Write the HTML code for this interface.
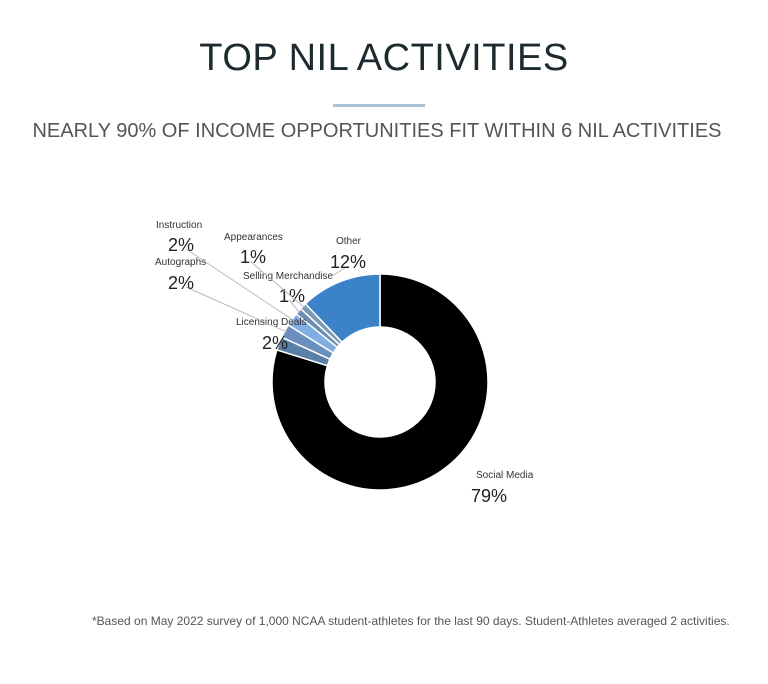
<!DOCTYPE html>
<html><head><meta charset="utf-8"><style>
body{margin:0;width:768px;height:684px;background:#fff;font-family:"Liberation Sans",sans-serif;overflow:hidden;position:relative}
.t{position:absolute;white-space:nowrap}
</style></head><body>
<div class="t" style="left:0;width:768px;text-align:center;top:37px;font-size:38px;color:#1d2a30;letter-spacing:0.5px">TOP NIL ACTIVITIES</div>
<div style="position:absolute;left:333px;top:104px;width:92px;height:3px;background:#a9c3d9"></div>
<div class="t" style="left:0;width:754px;text-align:center;top:120px;font-size:20px;color:#555">NEARLY 90% OF INCOME OPPORTUNITIES FIT WITHIN 6 NIL ACTIVITIES</div>
<svg width="768" height="684" style="position:absolute;left:0;top:0">
<g id="slices"></g><g id="labels"></g>
</svg>
<div class="t" style="left:92px;top:614px;font-size:12px;color:#555">*Based on May 2022 survey of 1,000 NCAA student-athletes for the last 90 days. Student-Athletes averaged 2 activities.</div>
<script>
const categories=["Social Media","Licensing Deals","Autographs","Instruction","Selling Merchandise","Appearances","Other"];
const values=[79,2,2,2,1,1,12];
const colors=["#000000","#5b80a8","#6a8fbd","#80aee0","#6d8db0","#7a98b8","#3b82c8"];
const cx=380,cy=382,R=108,r=55;
const total=values.reduce((a,b)=>a+b,0);
const ns="http://www.w3.org/2000/svg";
const g=document.getElementById('slices');
function pt(a,rad){return [cx+rad*Math.sin(a),cy-rad*Math.cos(a)];}
let acc=0;
const mids=[];
values.forEach((v,i)=>{
 const a0=acc/total*2*Math.PI;acc+=v;const a1=acc/total*2*Math.PI;
 mids.push((a0+a1)/2);
 const large=(a1-a0)>Math.PI?1:0;
 const p0=pt(a0,R),p1=pt(a1,R),q1=pt(a1,r),q0=pt(a0,r);
 const p=document.createElementNS(ns,'path');
 p.setAttribute('d',`M${p0[0]},${p0[1]}A${R},${R} 0 ${large} 1 ${p1[0]},${p1[1]}L${q1[0]},${q1[1]}A${r},${r} 0 ${large} 0 ${q0[0]},${q0[1]}Z`);
 p.setAttribute('fill',colors[i]);p.setAttribute('stroke','#fff');p.setAttribute('stroke-width','1.5');
 
 
 g.appendChild(p);
});
// label anchor positions (layout, not data)
const lab=[[476,478,471,496],[236,325,262,343],[155,265,168,283],[156,228,168,245],[243,279,279,296],[224,240,240,257],[336,244,330,262]];
const lg=document.getElementById('labels');
values.forEach((v,i)=>{
 const [nx,ny,px,py]=lab[i];
 if(i>0&&i<6){
  const e=pt(mids[i],R-2);
  const l=document.createElementNS(ns,'line');
  const sx=px+12,sy=py+4;
  l.setAttribute('x1',i==1?px+14:(i==2||i==3?px+18:px+10));l.setAttribute('y1',i==1?py-4:py+4);
  l.setAttribute('x2',e[0]);l.setAttribute('y2',e[1]);
  l.setAttribute('stroke','#bbb');l.setAttribute('stroke-width','1');
  
  
  if(i!==1)lg.appendChild(l);
 }
 if(i==6){const e=pt(mids[i],R);const l=document.createElementNS(ns,'line');
  l.setAttribute('x1',px+18);l.setAttribute('y1',py+4);l.setAttribute('x2',px+2);l.setAttribute('y2',py+14);
  l.setAttribute('stroke','#bbb');
  
  lg.appendChild(l);}
 const t=document.createElementNS(ns,'text');
 t.setAttribute('x',nx);t.setAttribute('y',ny);t.setAttribute('font-size','10');t.setAttribute('fill','#333');
 t.setAttribute('font-family','Liberation Sans, sans-serif');
 t.textContent=categories[i];
 
 
 lg.appendChild(t);
 const t2=document.createElementNS(ns,'text');
 t2.setAttribute('x',px);t2.setAttribute('y',py+6);t2.setAttribute('font-size','18');t2.setAttribute('fill','#222');
 t2.setAttribute('font-family','Liberation Sans, sans-serif');
 t2.textContent=v+'%';
 
 
 lg.appendChild(t2);
});
</script>
</body></html>
